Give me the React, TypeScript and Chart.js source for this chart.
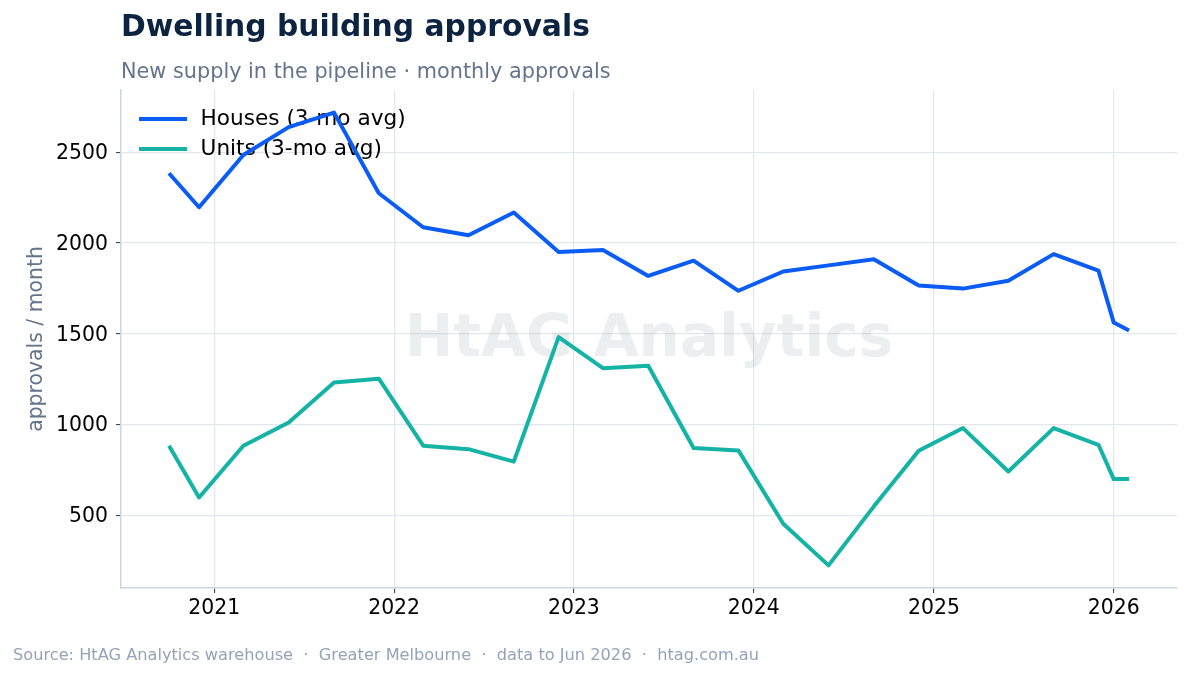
import React, { useEffect, useRef } from "react";
import { Chart, registerables } from "chart.js";

Chart.register(...registerables);

// ---- data ----
const months = [
  "2020-10", "2020-12", "2021-03", "2021-06", "2021-09", "2021-12",
  "2022-03", "2022-06", "2022-09", "2022-12", "2023-03", "2023-06",
  "2023-09", "2023-12", "2024-03", "2024-06", "2024-09", "2024-12",
  "2025-03", "2025-06", "2025-09", "2025-12", "2026-01", "2026-02",
];
const housesAvg = [
  2384, 2197, 2485, 2638, 2718, 2274,
  2087, 2043, 2168, 1950, 1962, 1819,
  1903, 1737, 1843, 1877, 1911, 1766,
  1749, 1792, 1939, 1848, 1562, 1518,
];
const unitsAvg = [
  884, 599, 884, 1012, 1232, 1253,
  884, 865, 796, 1482, 1311, 1324,
  871, 858, 454, 225, 550, 856,
  981, 742, 981, 889, 700, 700,
];
const yTickValues = [500, 1000, 1500, 2000, 2500];
const xTickYears = [2021, 2022, 2023, 2024, 2025, 2026];

const seriesLabels = ["Houses (3-mo avg)", "Units (3-mo avg)"];
const seriesColors = ["#0a5cf5", "#14b3a6"];

const titleText = "Dwelling building approvals";
const subtitleText = "New supply in the pipeline · monthly approvals";
const yAxisTitle = "approvals / month";
const footerText =
  "Source: HtAG Analytics warehouse  ·  Greater Melbourne  ·  data to Jun 2026  ·  htag.com.au";
const watermarkText = "HtAG Analytics";

// ---- helpers ----
const DAY = 86400000;
const monthToDay = (m: string) => {
  const [y, mo] = m.split("-").map(Number);
  return Date.UTC(y, mo - 1, 1) / DAY;
};
const yearToDay = (y: number) => Date.UTC(y, 0, 1) / DAY;

const FONT = "'DejaVu Sans', 'Noto Sans', sans-serif";
const W = 1189;
const H = 676;

const xs = months.map(monthToDay);
const xMinData = Math.min(...xs);
const xMaxData = Math.max(...xs);
const xPad = (xMaxData - xMinData) * 0.05;
const allY = [...housesAvg, ...unitsAvg];
const yMinData = Math.min(...allY);
const yMaxData = Math.max(...allY);
const yPad = (yMaxData - yMinData) * 0.05;

const LEGEND_FONT = 21.6;
const LEGEND_PAD = 8.4;

function makeLegendLine(color: string) {
  const c = document.createElement("canvas");
  c.width = 48;
  c.height = 4;
  const g = c.getContext("2d");
  if (g) {
    g.fillStyle = color;
    g.fillRect(0, 0, 48, 4);
  }
  return c;
}

const watermarkPlugin = {
  id: "watermark",
  beforeDatasetsDraw(chart: any) {
    const { ctx, chartArea } = chart;
    const cx = (chartArea.left + chartArea.right) / 2;
    const cy = (chartArea.top + chartArea.bottom) / 2;
    const size = 58;
    ctx.save();
    ctx.font = `bold ${size}px ${FONT}`;
    ctx.fillStyle = "rgba(160,168,180,0.2)";
    ctx.textAlign = "center";
    ctx.textBaseline = "alphabetic";
    ctx.fillText(watermarkText, cx, cy + 0.29 * size);
    ctx.restore();
  },
};

const legendShiftPlugin = {
  id: "legendShift",
  afterLayout(chart: any) {
    const lg = chart.legend;
    const ca = chart.chartArea;
    if (lg && ca) {
      const h = lg.height;
      const w = lg.width;
      lg.left = ca.left + 6;
      lg.top = ca.top + 10;
      lg.right = lg.left + w;
      lg.bottom = lg.top + h;
    }
  },
};

export default function App() {
  const canvasRef = useRef<HTMLCanvasElement | null>(null);

  useEffect(() => {
    const canvas = canvasRef.current;
    if (!canvas) return;
    const tickFont = { family: FONT, size: 20.4 };
    const legendImgs = seriesColors.map(makeLegendLine);
    const chart = new Chart(canvas, {
      type: "line",
      data: {
        datasets: [housesAvg, unitsAvg].map((vals, i) => ({
          label: seriesLabels[i],
          data: vals.map((v, j) => ({ x: xs[j], y: v })),
          borderColor: seriesColors[i],
          backgroundColor: seriesColors[i],
          borderWidth: 4,
          pointRadius: 0,
          pointHoverRadius: 0,
          tension: 0,
          fill: false,
          borderJoinStyle: "round",
          borderCapStyle: "butt",
        })),
      },
      options: {
        responsive: false,
        animation: false,
        devicePixelRatio: 1,
        layout: { padding: { top: 90, right: 12, left: 0, bottom: 0 } },
        plugins: {
          tooltip: { enabled: false },
          title: { display: false },
          legend: {
            display: true,
            position: "chartArea" as any,
            align: "start",
            labels: {
              usePointStyle: true,
              pointStyleWidth: 54.4,
              boxHeight: 4,
              padding: LEGEND_PAD,
              color: "#000000",
              font: { family: FONT, size: LEGEND_FONT },
              generateLabels: (c: any) =>
                c.data.datasets.map((ds: any, i: number) => ({
                  text: ds.label,
                  fillStyle: ds.borderColor,
                  strokeStyle: ds.borderColor,
                  lineWidth: 0,
                  hidden: false,
                  datasetIndex: i,
                  fontColor: "#000000",
                  pointStyle: legendImgs[i],
                })),
            },
          },
        },
        scales: {
          x: {
            type: "linear",
            min: xMinData - xPad,
            max: xMaxData + xPad,
            afterBuildTicks: (s: any) => {
              s.ticks = xTickYears.map((y) => ({ value: yearToDay(y) }));
            },
            afterFit: (s: any) => {
              s.height = 88;
            },
            ticks: {
              autoSkip: false,
              maxRotation: 0,
              minRotation: 0,
              padding: 3.5,
              color: "#000000",
              font: tickFont,
              callback: (v: any) => String(new Date(Number(v) * DAY).getUTCFullYear()),
            },
            grid: {
              color: "#e3e6ea",
              lineWidth: 1.2,
              tickColor: "#333333",
              tickLength: 5,
              tickWidth: 1,
            },
            border: { color: "#cbd5e1", width: 1.5 },
          },
          y: {
            type: "linear",
            min: yMinData - yPad,
            max: yMaxData + yPad,
            afterBuildTicks: (s: any) => {
              s.ticks = yTickValues.map((v) => ({ value: v }));
            },
            afterFit: (s: any) => {
              s.width = 121;
            },
            ticks: {
              padding: 8,
              labelOffset: 1.5,
              color: "#000000",
              font: tickFont,
              callback: (v: any) => String(v),
            },
            grid: {
              color: "#e3e6ea",
              lineWidth: 1.2,
              tickColor: "#333333",
              tickLength: 5,
              tickWidth: 1,
            },
            border: { color: "#cbd5e1", width: 1.5 },
            title: {
              display: true,
              text: yAxisTitle,
              color: "#64748b",
              font: { family: FONT, size: 20.4 },
              padding: { top: 24, bottom: 0 },
            },
          },
        },
      },
      plugins: [watermarkPlugin, legendShiftPlugin],
    } as any);
    return () => chart.destroy();
  }, []);

  return (
    <div
      style={{
        position: "absolute",
        left: 0,
        top: 0,
        width: W,
        height: H,
        background: "#ffffff",
        overflow: "hidden",
        fontFamily: FONT,
      }}
    >
      <canvas
        ref={canvasRef}
        width={W}
        height={H}
        style={{ position: "absolute", left: 0, top: 0, width: W, height: H }}
      />
      <div
        style={{
          position: "absolute",
          left: 121,
          top: 11,
          fontSize: 29.8,
          lineHeight: 1,
          fontWeight: "bold",
          color: "#0d2440",
          whiteSpace: "nowrap",
        }}
      >
        {titleText}
      </div>
      <div
        style={{
          position: "absolute",
          left: 121,
          top: 61.4,
          fontSize: 20.8,
          lineHeight: 1,
          color: "#64748b",
          whiteSpace: "nowrap",
        }}
      >
        {subtitleText}
      </div>
      <div
        style={{
          position: "absolute",
          left: 13,
          top: 647,
          fontSize: 16.2,
          lineHeight: 1,
          color: "#94a3b8",
          whiteSpace: "pre",
        }}
      >
        {footerText}
      </div>
    </div>
  );
}
